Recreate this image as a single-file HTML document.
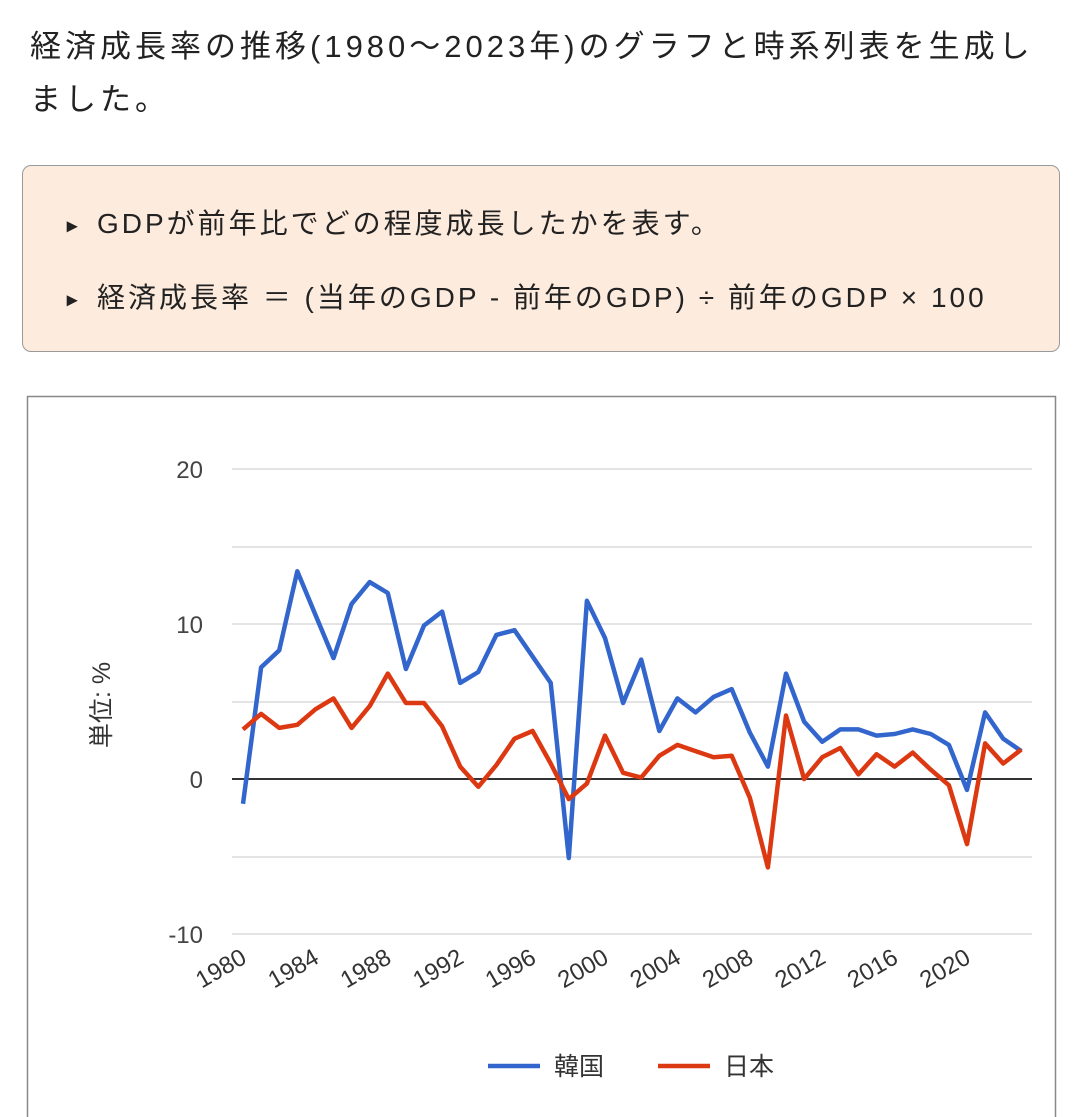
<!DOCTYPE html>
<html><head><meta charset="utf-8"><style>
html,body{margin:0;padding:0;background:#fff;width:1074px;height:1117px;overflow:hidden}
body{font-family:"Liberation Sans","Noto Sans CJK JP",sans-serif;color:#222;position:relative}
.h{position:absolute;left:30px;top:20px;font-size:31px;line-height:53px;width:1040px;letter-spacing:4px}
.box{position:absolute;left:22px;top:165px;width:1038px;height:187px;background:#fdebdd;border:1.5px solid #999;border-radius:9px;box-sizing:border-box}
.b{position:absolute;left:44px;font-size:28px;white-space:nowrap;letter-spacing:3px}
.b i{font-style:normal;font-size:20px;display:inline-block;width:30px;vertical-align:middle;font-weight:bold}
</style></head><body>
<div class="h">経済成長率の推移(1980～2023年)のグラフと時系列表を生成し<br>ました。</div>
<div class="box">
<div class="b" style="top:36px"><i>▸</i>GDPが前年比でどの程度成長したかを表す。</div>
<div class="b" style="top:110px"><i>▸</i>経済成長率 ＝ (当年のGDP - 前年のGDP) ÷ 前年のGDP × 100</div>
</div>
<svg id="c" style="position:absolute;left:0;top:0" width="1074" height="1117" font-family="Liberation Sans, Noto Sans CJK JP, sans-serif">
<rect x="27.5" y="396.5" width="1028" height="730" fill="#fff" stroke="#888" stroke-width="1.5"/>
<g stroke="#e4e4e4" stroke-width="2">
<line x1="232" x2="1032" y1="469" y2="469"/><line x1="232" x2="1032" y1="547" y2="547"/>
<line x1="232" x2="1032" y1="624" y2="624"/><line x1="232" x2="1032" y1="702" y2="702"/>
<line x1="232" x2="1032" y1="857" y2="857"/><line x1="232" x2="1032" y1="934" y2="934"/>
</g>
<line x1="232" x2="1032" y1="779" y2="779" stroke="#333" stroke-width="2"/>
<g font-size="24" fill="#444" text-anchor="end">
<text x="203" y="478">20</text><text x="203" y="633">10</text><text x="203" y="788">0</text><text x="203" y="943">-10</text>
</g>
<text transform="translate(110,705) rotate(-90)" font-size="25" fill="#333" text-anchor="middle">単位: %</text>
<g id="xl" font-size="24" fill="#333" text-anchor="end"></g>
<polyline id="kr" fill="none" stroke="#3366cc" stroke-width="4.5" stroke-linejoin="round"/>
<polyline id="jp" fill="none" stroke="#dc3912" stroke-width="4.5" stroke-linejoin="round"/>
<line x1="488" x2="540" y1="1066" y2="1066" stroke="#3366cc" stroke-width="4.5"/>
<text x="554" y="1075" font-size="25" fill="#333">韓国</text>
<line x1="658" x2="710" y1="1066" y2="1066" stroke="#dc3912" stroke-width="4.5"/>
<text x="724" y="1075" font-size="25" fill="#333">日本</text>
</svg>
<script>
var kr=[-1.6,7.2,8.3,13.4,10.6,7.8,11.3,12.7,12.0,7.1,9.9,10.8,6.2,6.9,9.3,9.6,7.9,6.2,-5.1,11.5,9.1,4.9,7.7,3.1,5.2,4.3,5.3,5.8,3.0,0.8,6.8,3.7,2.4,3.2,3.2,2.8,2.9,3.2,2.9,2.2,-0.7,4.3,2.6,1.8];
var jp=[3.2,4.2,3.3,3.5,4.5,5.2,3.3,4.7,6.8,4.9,4.9,3.4,0.8,-0.5,0.9,2.6,3.1,1.0,-1.3,-0.3,2.8,0.4,0.1,1.5,2.2,1.8,1.4,1.5,-1.2,-5.7,4.1,0.0,1.4,2.0,0.3,1.6,0.8,1.7,0.6,-0.4,-4.2,2.3,1.0,1.9];
function X(i){return 243+i*18.1}function Y(v){return 779-v*15.5}
function pts(a){return a.map(function(v,i){return X(i).toFixed(1)+","+Y(v).toFixed(1)}).join(" ")}
document.getElementById("kr").setAttribute("points",pts(kr));
document.getElementById("jp").setAttribute("points",pts(jp));
var g=document.getElementById("xl"),s="";
for(var y=1980;y<=2020;y+=4){var x=X(y-1980)+5;s+='<text transform="translate('+x+',962) rotate(-30)">'+y+'</text>';}
g.innerHTML=s;
</script>
</body></html>
